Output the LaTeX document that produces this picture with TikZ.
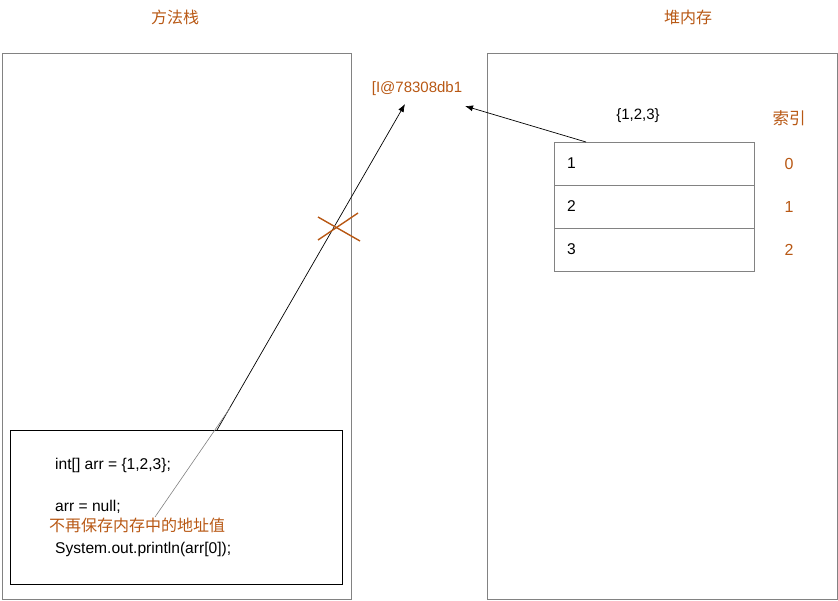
\documentclass[tikz,border=0pt]{standalone}
\usepackage{fontspec}
\setmainfont{Liberation Sans}
\newfontfamily\cjk{Noto Sans CJK SC}
\usetikzlibrary{arrows.meta}
\definecolor{rust}{RGB}{184,88,20}
\definecolor{frame}{RGB}{130,130,130}

\begin{document}
\begin{tikzpicture}[x=1pt,y=-1pt,
    area/.style={draw=frame,line width=0.8pt},
    cell/.style={draw=frame,line width=0.8pt,minimum width=200pt,minimum height=43pt,inner sep=0pt},
    rusty/.style={text=rust,font=\cjk\fontsize{16}{18}\selectfont},
    codeline/.style={anchor=west,font=\fontsize{15.6}{18}\selectfont,inner sep=0pt}]
  \useasboundingbox (0,0) rectangle (838,600);

  % the two memory areas
  \node[rusty] (stacktitle) at (175,17) {方法栈};
  \node[rusty] (heaptitle) at (688,17) {堆内存};
  \draw[area] (2,53) rectangle (351,599);
  \draw[area] (487,53) rectangle (837,599);

  % code in the stack
  \node[draw,line width=0.8pt,minimum width=332pt,minimum height=154pt,inner sep=0pt] (code) at (176,507) {};
  \node[codeline] (l1) at (55,465) {int[] arr = \{1,2,3\};};
  \node[codeline] (l2) at (55,507) {arr = null;};
  \node[codeline,text=rust,font=\cjk\fontsize{16}{18}\selectfont] (note) at (49,525) {不再保存内存中的地址值};
  \node[codeline] (l3) at (55,549) {System.out.println(arr[0]);};

  % array in the heap
  \node[font=\fontsize{15}{17}\selectfont] (init) at (638,116) {\{1,2,3\}};
  \node[rusty,font=\cjk\fontsize{16.5}{18}\selectfont] (idx) at (789,118) {索引};
  \foreach \v [count=\i from 0] in {1,2,3} {
    \node[cell] (c\i) at (654,163.5+43*\i) {};
    \node[codeline] (v\i) at (567,163.5+43*\i) {\v};
    \node[rusty,font=\fontsize{16}{18}\selectfont] (n\i) at (789,163.5+43*\i) {\i};
  }

  % address
  \node[text=rust,font=\fontsize{15}{17}\selectfont] (addr) at (417,89) {[I@78308db1};

  \coordinate (ref) at (217,430);
  \coordinate (tip) at (405,104);
  \coordinate (arrtop) at (586,142);
  \coordinate (back) at (465,106);
  \coordinate (bend) at (230,408);

  \draw[-{Latex[length=8pt,width=6pt]},line width=0.7pt] (ref) -- (tip);
  \draw[-{Latex[length=8pt,width=6pt]},line width=0.7pt] (arrtop) -- (back);
  \draw[gray,line width=0.6pt] (155,517) -- (bend);

  % cut reference
  \draw[rust,line width=1.4pt] (318,217) -- (360,241);
  \draw[rust,line width=1.4pt] (318,240) -- (358,213);
\end{tikzpicture}
\end{document}
